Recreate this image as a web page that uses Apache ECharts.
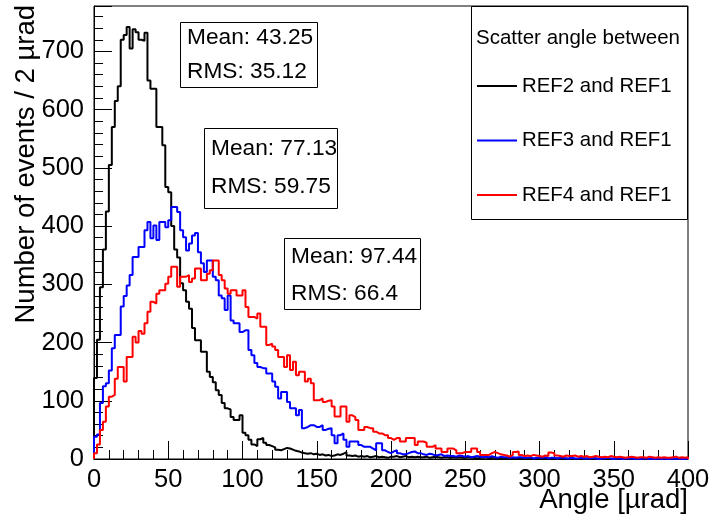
<!DOCTYPE html>
<html>
<head>
<meta charset="utf-8">
<script src="https://cdn.jsdelivr.net/npm/echarts@6/dist/echarts.min.js"></script>
<style>html,body{margin:0;padding:0;background:#fff}#chart{width:715px;height:520px}</style>
</head>
<body>
<div id="chart"></div>
<script>
// ---- data (events per 2 µrad bin, bins from 0 to 400 µrad) ----
const binWidth = 2;
const seriesNames = ['REF2 and REF1', 'REF3 and REF1', 'REF4 and REF1'];
const seriesColors = ['#000000', '#0000ff', '#ff0000'];
const legendTitle = 'Scatter angle between';
const statMeans = ['43.25', '77.13', '97.44'];
const statRMS = ['35.12', '59.75', '66.4'];
const xTitle = 'Angle [µrad]';
const yTitle = 'Number of events / 2 µrad';

const ref2 = [
  139,205,295,360,425,505,570,615,640,720,
  728,742,705,738,733,720,718,732,650,636,
  636,570,570,539,467,458,400,360,346,302,
  290,270,258,225,204,204,184,184,150,141,
  132,118,110,96,87,85,72,67,67,75,
  45,41,33,25,22,34,36,28,24,22,
  20,16,15,17,19,18,16,14,13,11,
  10,9,10,8,9,7,8,6,7,5,
  6,8,7,9,12,6,5,6,4,5,
  4,5,3,4,5,3,4,3,2,4,
  4,5,3,4,5,3,4,3,4,3,
  3,4,2,3,4,3,2,3,3,2,
  3,2,3,2,2,3,2,2,1,2,
  2,3,1,2,2,1,2,1,2,1,
  1,2,1,1,2,1,1,0,1,1,
  1,0,1,1,0,1,1,0,1,0,
  1,0,0,1,0,1,0,0,1,0,
  0,1,0,0,1,0,0,0,1,0,
  0,0,1,0,0,0,0,1,0,0,
  0,0,0,1,0,0,0,0,0,0
];
const ref3 = [
  38,42,96,125,130,152,190,213,213,262,
  280,298,316,347,347,364,364,393,407,379,
  401,376,407,407,398,410,433,433,424,393,
  381,358,370,384,388,355,336,321,341,341,
  313,307,281,276,256,281,238,233,233,218,
  221,221,187,178,165,158,156,156,147,147,
  133,124,104,115,115,98,87,87,75,84,
  53,55,58,58,55,55,58,50,52,53,
  41,27,41,44,33,21,30,30,30,24,
  21,21,21,18,15,27,27,15,12,10,
  13,15,10,8,8,10,12,13,10,10,
  8,7,9,8,6,7,8,5,6,5,
  5,4,6,5,4,5,3,4,5,4,
  3,4,3,5,3,2,4,3,3,2,
  3,2,3,3,2,2,3,1,2,2,
  2,3,1,2,2,1,2,2,1,1,
  2,1,1,2,1,1,1,2,1,0,
  1,1,2,1,0,1,1,0,1,1,
  1,0,1,0,1,1,0,1,0,1,
  0,1,0,0,1,0,1,0,0,1
];
const ref4 = [
  10,25,50,64,90,107,110,138,158,158,
  133,175,175,210,200,220,215,233,253,270,
  267,284,290,290,301,313,330,330,296,313,
  313,316,304,310,327,327,307,307,318,324,
  341,341,316,307,293,284,290,290,281,281,
  290,261,244,244,241,250,227,227,196,198,
  193,187,175,175,158,178,153,167,144,150,
  150,133,138,130,101,101,104,98,100,101,
  90,73,73,90,90,64,75,72,67,50,
  50,55,53,53,47,44,44,41,41,36,
  33,36,36,30,30,36,36,36,24,30,
  30,28,21,21,24,18,18,12,12,18,
  18,15,10,10,12,12,12,18,18,12,
  7,7,7,10,12,10,8,7,6,4,
  7,12,13,7,5,6,5,7,6,5,
  4,6,5,11,10,6,5,4,6,5,
  5,6,4,5,4,5,3,4,5,4,
  3,4,3,5,4,3,4,3,2,3,
  4,3,2,3,3,2,4,3,2,3,
  2,3,2,2,3,4,2,3,2,3
];
const histograms = [ref2, ref3, ref4];

// histogram outline: points at bin low edges, closed to the baseline at both ends
function outline(vals) {
  const pts = [[0, 0]];
  vals.forEach((v, i) => pts.push([i * binWidth, v]));
  const end = vals.length * binWidth;
  pts.push([end, vals[vals.length - 1]]);
  pts.push([end, 0]);
  return pts;
}

const FONT = '"Liberation Sans", Arial, Helvetica, sans-serif';
const chart = echarts.init(document.getElementById('chart'), null, {renderer: 'canvas'});

// stat boxes
const statBoxes = [
  {x: 180, y: 22, w: 137, h: 65, tx: 187, y1: 38, y2: 72},
  {x: 204, y: 128, w: 133, h: 80, tx: 211, y1: 149, y2: 187},
  {x: 284, y: 238, w: 136, h: 71, tx: 291, y1: 257, y2: 294}
];
const graphics = [];
statBoxes.forEach((b, i) => {
  graphics.push({type: 'rect', shape: {x: b.x + 0.5, y: b.y + 0.5, width: b.w, height: b.h},
    style: {fill: '#fff', stroke: '#000', lineWidth: 1}, z: 100});
  graphics.push({type: 'text', x: b.tx, y: b.y1, z: 101,
    style: {text: 'Mean: ' + statMeans[i], font: '22.7px ' + FONT, fill: '#000', verticalAlign: 'middle'}});
  graphics.push({type: 'text', x: b.tx, y: b.y2, z: 101,
    style: {text: 'RMS: ' + statRMS[i], font: '22.7px ' + FONT, fill: '#000', verticalAlign: 'middle'}});
});
// legend box + title
graphics.push({type: 'rect', shape: {x: 471.5, y: 6.5, width: 216, height: 213},
  style: {fill: '#fff', stroke: '#000', lineWidth: 1}, z: 100});
graphics.push({type: 'text', x: 476, y: 38, z: 101,
  style: {text: legendTitle, font: '20.5px ' + FONT, fill: '#000', verticalAlign: 'middle'}});
// axis titles
graphics.push({type: 'text', x: 688, y: 500, z: 101,
  style: {text: xTitle, font: '27.5px ' + FONT, fill: '#000', align: 'right', verticalAlign: 'middle'}});
graphics.push({type: 'text', x: 26, y: 5, rotation: Math.PI / 2, z: 101,
  style: {text: yTitle, font: '27.5px ' + FONT, fill: '#000', align: 'right', verticalAlign: 'middle'}});

const option = {
  animation: false,
  backgroundColor: '#fff',
  grid: {left: 94, right: 27, top: 6, bottom: 61, show: true, borderColor: '#000', borderWidth: 1,
         backgroundColor: 'transparent', containLabel: false, outerBoundsMode: 'none'},
  xAxis: {
    type: 'value', min: 0, max: 400, interval: 50,
    axisLine: {show: true, lineStyle: {color: '#000', width: 1}},
    axisTick: {show: true, inside: true, length: 18, lineStyle: {color: '#000'}},
    minorTick: {show: true, splitNumber: 5, length: 9, lineStyle: {color: '#000'}},
    splitLine: {show: false},
    axisLabel: {fontSize: 25.5, fontFamily: FONT, color: '#000', margin: 8}
  },
  yAxis: {
    type: 'value', min: 0, max: 778, interval: 100,
    axisLine: {show: true, lineStyle: {color: '#000', width: 1}},
    axisTick: {show: true, inside: true, length: 18, lineStyle: {color: '#000'}},
    minorTick: {show: true, splitNumber: 5, length: 9, lineStyle: {color: '#000'}},
    splitLine: {show: false},
    axisLabel: {fontSize: 25.5, fontFamily: FONT, color: '#000', margin: 10, showMaxLabel: false}
  },
  legend: {
    orient: 'vertical', left: 477, top: 76, padding: 0, itemWidth: 40, itemHeight: 2, itemGap: 34.5,
    icon: 'rect', selectedMode: false, z: 110,
    textStyle: {fontSize: 20.4, fontFamily: FONT, color: '#000'},
    data: seriesNames
  },
  graphic: graphics,
  series: histograms.map((h, i) => ({
    name: seriesNames[i], type: 'line', step: 'end', symbol: 'none',
    data: outline(h), clip: true, z: 2 + i,
    lineStyle: {color: seriesColors[i], width: 2}, itemStyle: {color: seriesColors[i]}
  }))
};
chart.setOption(option);
</script>
</body>
</html>
